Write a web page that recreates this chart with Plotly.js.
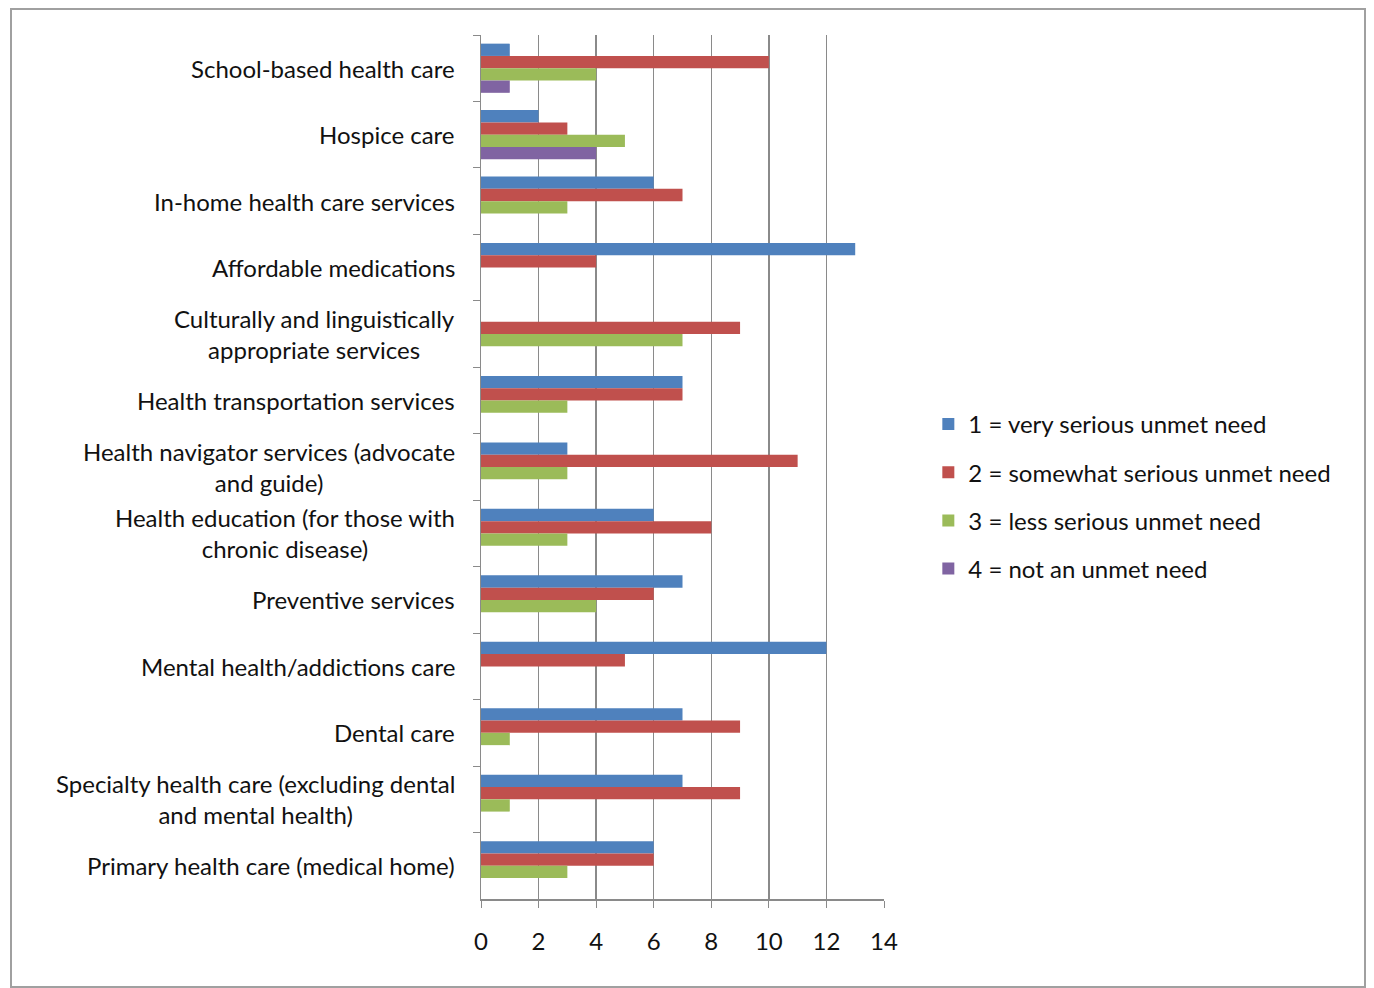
<!DOCTYPE html>
<html>
<head>
<meta charset="utf-8">
<script src="https://cdn.plot.ly/plotly-3.0.1.min.js"></script>
<style>
  html, body { margin: 0; padding: 0; background: #ffffff; }
  #wrap { position: relative; width: 1374px; height: 988px; }
  #frame { position: absolute; left: 10px; top: 8px; width: 1356px; height: 980px;
           border: 2px solid #a0a0a0; box-sizing: border-box; pointer-events: none; }
  #chart { position: absolute; left: 0; top: 0; width: 1374px; height: 988px; }
</style>
</head>
<body>
<div id="wrap">
  <div id="chart"></div>
  <div id="frame"></div>
</div>
<script>
// Service categories, listed top to bottom
const categories = [
  "School-based health care",
  "Hospice care",
  "In-home health care services",
  "Affordable medications",
  "Culturally and linguistically<br>appropriate services",
  "Health transportation services",
  "Health navigator services (advocate<br>and guide)",
  "Health education (for those with<br>chronic disease)",
  "Preventive services",
  "Mental health/addictions care",
  "Dental care",
  "Specialty health care (excluding dental<br>and mental health)",
  "Primary health care (medical home)"
];

// Number of responses per rating
const verySerious     = [1, 2, 6, 13, 0, 7, 3, 6, 7, 12, 7, 7, 6];
const somewhatSerious = [10, 3, 7, 4, 9, 7, 11, 8, 6, 5, 9, 9, 6];
const lessSerious     = [4, 5, 3, 0, 7, 3, 3, 3, 4, 0, 1, 1, 3];
const notUnmet        = [1, 4, 0, 0, 0, 0, 0, 0, 0, 0, 0, 0, 0];

const seriesNames = [
  "1 = very serious unmet need",
  "2 = somewhat serious unmet need",
  "3 = less serious unmet need",
  "4 = not an unmet need"
];
const seriesValues = [verySerious, somewhatSerious, lessSerious, notUnmet];
const seriesColors = ["#4F81BD", "#C0504D", "#9BBB59", "#8064A2"];

const fontFamily = "Lato, 'Open Sans', sans-serif";
const textColor = "#111111";

const traces = seriesValues.map((vals, i) => ({
  type: "bar",
  orientation: "h",
  name: seriesNames[i],
  legendgroup: "g" + i,
  x: vals,
  y: categories,
  marker: { color: seriesColors[i], line: { width: 0 } },
  hoverinfo: "x+name"
}));

// Category labels drawn as centred multi-line text to the left of the axis
const labelAnnotations = categories.map(c => ({
  text: c,
  xref: "paper", x: 0, xanchor: "right", xshift: -24,
  yref: "y", y: c, yanchor: "middle",
  align: "center",
  showarrow: false,
  font: { family: fontFamily, size: 24, color: textColor }
}));

const layout = {
  width: 1374,
  height: 988,
  margin: { l: 481, r: 490, t: 35, b: 89 },
  paper_bgcolor: "#ffffff",
  plot_bgcolor: "#ffffff",
  barmode: "group",
  bargap: 0.26,
  bargroupgap: 0,
  font: { family: fontFamily, size: 24, color: textColor },
  xaxis: {
    range: [0, 14],
    dtick: 2,
    showgrid: true,
    gridcolor: "#8a8a8a",
    gridwidth: 1.5,
    zeroline: false,
    showline: true,
    linecolor: "#8a8a8a",
    linewidth: 1.5,
    ticks: "outside",
    ticklen: 7,
    tickcolor: "#8a8a8a",
    ticklabelstandoff: 14,
    tickfont: { family: fontFamily, size: 24, color: textColor }
  },
  yaxis: {
    autorange: "reversed",
    showgrid: false,
    zeroline: false,
    showline: true,
    linecolor: "#8a8a8a",
    linewidth: 1.5,
    ticks: "outside",
    tickson: "boundaries",
    ticklen: 7,
    tickcolor: "#8a8a8a",
    showticklabels: false
  },
  legend: {
    x: 1.11, xanchor: "left",
    y: 0.466, yanchor: "middle",
    traceorder: "grouped",
    tracegroupgap: 14,
    font: { family: fontFamily, size: 24, color: textColor },
    bgcolor: "rgba(0,0,0,0)",
    itemwidth: 30
  },
  annotations: labelAnnotations,
  showlegend: true
};

Plotly.newPlot("chart", traces, layout, { displayModeBar: false, staticPlot: true });
</script>
</body>
</html>
